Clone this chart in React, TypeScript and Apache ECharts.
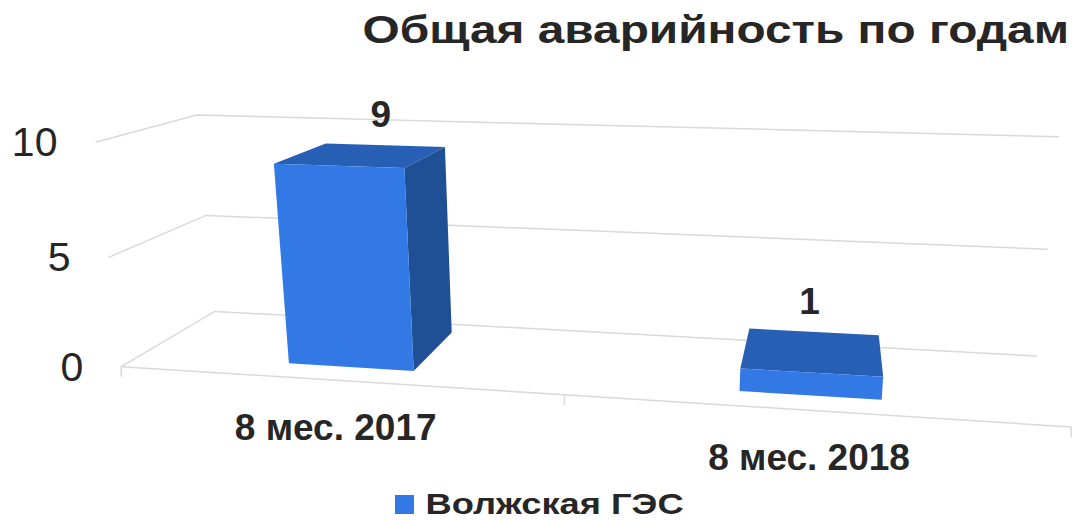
import React, { useEffect, useRef } from 'react';
import * as echarts from 'echarts';

// ---------- data ----------
const titleText = 'Общая аварийность по годам';
const categories = ['8 мес. 2017', '8 мес. 2018'];
const seriesName = 'Волжская ГЭС';
const values = [9, 1];
const yTicks = [0, 5, 10];
const Y_MIN = 0;
const Y_MAX = 10;
const Y_STEP = 5;

// ---------- style / layout ----------
const FONT = '"Liberation Sans", Arial, sans-serif';
const TEXT = '#262626';
const GRID_COLOR = '#D9D9D9';
const FRONT = '#3279E6';
const TOP = '#275FB5';
const SIDE = '#1F4F95';
const BAR_FRAC = 0.29; // of category band
const BAR_W0 = 0.2; // depth of bar front (0 = front, 1 = back wall)
const BAR_W1 = 0.85;
const WIDE = 1.21; // horizontal stretch of the wide title / legend lettering

// perspective calibration of the plotting box: [u, v, w] -> screen [x, y]
const FRAME_REF: number[][] = [
  [0, 0, 0, 121, 367],
  [1, 0, 0, 1071, 427],
  [0.5, 0, 0, 564, 395],
  [0, 0, 1, 215, 311],
  [1, 0, 1, 1037, 356],
  [0, 1, 0, 96, 142],
  [0, 1, 1, 196, 115],
  [1, 1, 1, 1059, 137],
  [0, 0.5, 0, 109, 257],
  [0, 0.5, 1, 206, 216],
  [1, 0.5, 1, 1048, 249],
];

const SX = 540;
const SY = 260;

function solve(A: number[][], b: number[]): number[] {
  const n = b.length;
  const M = A.map((r, i) => [...r, b[i]]);
  for (let c = 0; c < n; c++) {
    let p = c;
    for (let r = c + 1; r < n; r++) if (Math.abs(M[r][c]) > Math.abs(M[p][c])) p = r;
    const tmp = M[c];
    M[c] = M[p];
    M[p] = tmp;
    for (let r = 0; r < n; r++) {
      if (r === c) continue;
      const f = M[r][c] / M[c][c];
      for (let k = c; k <= n; k++) M[r][k] -= f * M[c][k];
    }
  }
  return M.map((r, i) => r[n] / r[i]);
}

function fitCamera(): number[] {
  const A = Array.from({ length: 11 }, () => new Array(11).fill(0));
  const b = new Array(11).fill(0);
  const add = (row: number[], rhs: number) => {
    for (let i = 0; i < 11; i++) {
      for (let j = 0; j < 11; j++) A[i][j] += row[i] * row[j];
      b[i] += row[i] * rhs;
    }
  };
  for (const [X, Y, Z, x, y] of FRAME_REF) {
    const xn = (x - SX) / SX;
    const yn = (y - SY) / SY;
    add([X, Y, Z, 1, 0, 0, 0, 0, -xn * X, -xn * Y, -xn * Z], xn);
    add([0, 0, 0, 0, X, Y, Z, 1, -yn * X, -yn * Y, -yn * Z], yn);
  }
  return solve(A, b);
}

const CAM = fitCamera();

function project(u: number, v: number, w: number): number[] {
  const m = CAM;
  const d = m[8] * u + m[9] * v + m[10] * w + 1;
  return [
    ((m[0] * u + m[1] * v + m[2] * w + m[3]) / d) * SX + SX,
    ((m[4] * u + m[5] * v + m[6] * w + m[7]) / d) * SY + SY,
  ];
}

function area(pts: number[][]): number {
  let s = 0;
  for (let i = 0; i < pts.length; i++) {
    const a = pts[i];
    const b = pts[(i + 1) % pts.length];
    s += a[0] * b[1] - b[0] * a[1];
  }
  return s / 2;
}

export default function App() {
  const ref = useRef<HTMLDivElement>(null);

  useEffect(() => {
    if (!ref.current) return;
    const chart = echarts.init(ref.current, null, { renderer: 'svg' });

    const norm = (cs: any, p: number[]) => [
      (p[0] - cs.x) / cs.width,
      (cs.y + cs.height - p[1]) / cs.height,
    ];

    const option: any = {
      animation: false,
      graphic: [
        {
          type: 'text',
          x: 1069,
          y: 29,
          scaleX: WIDE,
          silent: true,
          style: {
            text: titleText,
            align: 'right',
            verticalAlign: 'middle',
            fontSize: 39.5,
            fontWeight: 'bold',
            fill: TEXT,
            fontFamily: FONT,
          },
        },
        {
          type: 'rect',
          shape: { x: 395, y: 495, width: 19, height: 19 },
          silent: true,
          style: { fill: FRONT },
        },
        {
          type: 'text',
          x: 425.5,
          y: 503.6,
          scaleX: WIDE,
          silent: true,
          style: {
            text: seriesName,
            align: 'left',
            verticalAlign: 'middle',
            fontSize: 30,
            fontWeight: 'bold',
            fill: TEXT,
            fontFamily: FONT,
          },
        },
      ],
      grid: { left: 100, right: 100, top: 100, bottom: 100, show: false },
      xAxis: { type: 'category', data: categories, show: false },
      yAxis: { type: 'value', min: Y_MIN, max: Y_MAX, interval: Y_STEP, show: false },
      series: [
        {
          type: 'custom',
          name: 'walls',
          z: 1,
          clip: false,
          silent: true,
          data: yTicks.map((t) => [0, t]),
          encode: { x: 0, y: 1 },
          renderItem: (params: any, api: any) => {
            const cs = params.coordSys;
            const t = api.value(1);
            const [, v] = norm(cs, api.coord([0, t]));
            const a = project(0, v, 0);
            const b = project(0, v, 1);
            const c = project(1, v, 1);
            return {
              type: 'group',
              children: [
                {
                  type: 'polyline',
                  shape: { points: [a, b, c] },
                  style: { stroke: GRID_COLOR, lineWidth: 1.5, fill: null },
                },
                {
                  type: 'text',
                  x: a[0] - 38,
                  y: a[1],
                  style: {
                    text: String(t),
                    align: 'right',
                    verticalAlign: 'middle',
                    fontSize: 41,
                    fill: TEXT,
                    fontFamily: FONT,
                  },
                },
              ],
            };
          },
        },
        {
          type: 'custom',
          name: 'floor',
          z: 1,
          clip: false,
          silent: true,
          data: categories.map((c, i) => [i, 0]),
          encode: { x: 0, y: 1 },
          renderItem: (params: any, api: any) => {
            const cs = params.coordSys;
            const idx = api.value(0);
            const center = api.coord([idx, 0]);
            const bw = api.size([1, 0])[0];
            const u0 = norm(cs, [center[0] - bw / 2, 0])[0];
            const u1 = norm(cs, [center[0] + bw / 2, 0])[0];
            const uc = norm(cs, center)[0];
            const p0 = project(u0, 0, 0);
            const p1 = project(u1, 0, 0);
            const pc = project(uc, 0, 0);
            const children: any[] = [
              { type: 'line', shape: { x1: p0[0], y1: p0[1], x2: p1[0], y2: p1[1] }, style: { stroke: GRID_COLOR, lineWidth: 1.5 } },
              { type: 'line', shape: { x1: p0[0], y1: p0[1], x2: p0[0], y2: p0[1] + 10 }, style: { stroke: GRID_COLOR, lineWidth: 1.5 } },
              {
                type: 'text',
                x: pc[0],
                y: pc[1] + 29,
                style: {
                  text: categories[idx],
                  align: 'center',
                  verticalAlign: 'top',
                  fontSize: 37,
                  fontWeight: 'bold',
                  fill: TEXT,
                  fontFamily: FONT,
                },
              },
            ];
            if (idx === categories.length - 1) {
              children.push({ type: 'line', shape: { x1: p1[0], y1: p1[1], x2: p1[0], y2: p1[1] + 10 }, style: { stroke: GRID_COLOR, lineWidth: 1.5 } });
            }
            return { type: 'group', children };
          },
        },
        {
          type: 'custom',
          name: seriesName,
          z: 3,
          clip: false,
          itemStyle: { color: FRONT },
          data: values.map((v, i) => [i, v]),
          encode: { x: 0, y: 1 },
          renderItem: (params: any, api: any) => {
            const cs = params.coordSys;
            const idx = api.value(0);
            const val = api.value(1);
            const base = api.coord([idx, 0]);
            const top = api.coord([idx, val]);
            const bw = api.size([1, 0])[0] * BAR_FRAC;
            const u0 = norm(cs, [base[0] - bw / 2, 0])[0];
            const u1 = norm(cs, [base[0] + bw / 2, 0])[0];
            const uc = norm(cs, base)[0];
            const vt = norm(cs, top)[1];
            const FBL = project(u0, 0, BAR_W0);
            const FBR = project(u1, 0, BAR_W0);
            const FTL = project(u0, vt, BAR_W0);
            const FTR = project(u1, vt, BAR_W0);
            const BBL = project(u0, 0, BAR_W1);
            const BBR = project(u1, 0, BAR_W1);
            const BTL = project(u0, vt, BAR_W1);
            const BTR = project(u1, vt, BAR_W1);
            const front = [FBL, FBR, FTR, FTL];
            const s = Math.sign(area(front));
            const faces: any[] = [];
            const right = [FBR, BBR, BTR, FTR];
            const left = [BBL, FBL, FTL, BTL];
            const topF = [FTL, FTR, BTR, BTL];
            if (Math.sign(area(right)) === s) faces.push({ type: 'polygon', shape: { points: right }, style: { fill: SIDE } });
            if (Math.sign(area(left)) === s) faces.push({ type: 'polygon', shape: { points: left }, style: { fill: SIDE } });
            if (Math.sign(area(topF)) === s) faces.push({ type: 'polygon', shape: { points: topF }, style: { fill: TOP } });
            faces.push({ type: 'polygon', shape: { points: front }, style: { fill: FRONT } });
            const lp = project(uc, vt, BAR_W1);
            faces.push({
              type: 'text',
              x: lp[0] - 4,
              y: lp[1] - 12,
              style: {
                text: String(val),
                align: 'center',
                verticalAlign: 'bottom',
                fontSize: 37,
                fontWeight: 'bold',
                fill: TEXT,
                fontFamily: FONT,
              },
            });
            return { type: 'group', children: faces };
          },
        },
      ],
    };

    chart.setOption(option);
    return () => chart.dispose();
  }, []);

  return (
    <div
      ref={ref}
      style={{ position: 'fixed', left: 0, top: 0, width: 1073, height: 520, background: '#fff' }}
    />
  );
}
